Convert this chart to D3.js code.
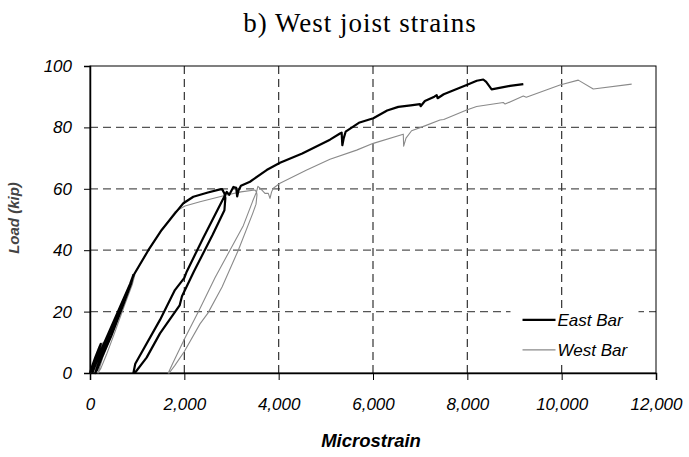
<!DOCTYPE html>
<html>
<head>
<meta charset="utf-8">
<script src="https://cdn.jsdelivr.net/npm/d3@7"></script>
<style>
  body { margin: 0; background: #fff; }
</style>
</head>
<body>
<div id="chart"></div>
<script>
// load (kip) vs microstrain
let eastStrain = [0, 40, 110, 200, 230, 180, 100, 50, 100, 250, 450, 650, 850, 920, 870, 700, 450, 250, 150, 110, 200, 400, 600, 800, 930,
  1237, 1520, 1802, 1979, 2191, 2500, 2756, 2800, 2850, 2870,
  2850, 2600, 2200, 1950, 1900, 1484, 1200, 950,
  920, 960, 1484, 1800, 2000, 2050, 2400, 2800, 2900, 2950,
  3040, 3100, 3120, 3150, 3200, 3392, 3745, 4028, 4500, 5088, 5300, 5335, 5350, 5380, 5420, 5700, 6007, 6300, 6537, 6800, 6996,
  7010, 7100, 7300, 7350, 7370, 7500, 7985, 8200, 8338, 8400, 8515, 8904, 9187];
let eastLoad = [0, 2, 5, 8.5, 9.5, 7, 3, 0, 2, 8, 15, 22, 29, 32, 29, 22, 12, 5, 1, 0, 4, 12, 20, 27, 32,
  40, 46.6, 52, 55.3, 57.4, 58.8, 59.8, 59.9, 58.5, 57,
  53, 45, 33, 25, 22, 12.9, 5, 0,
  0, 3, 17.3, 27, 31, 33, 44, 56, 59, 58,
  60.6, 60.3, 57.5, 59.5, 61, 62.3, 66.1, 68.5, 71.5, 76, 78, 78.3, 74.2, 76.5, 78.6, 81.5, 83, 85.5, 86.7, 87.2, 87.6,
  86.9, 88.6, 90, 90.5, 89.5, 90.8, 93.8, 95.2, 95.6, 94.8, 92.4, 93.5, 94.1];

let westStrain = [0, 80, 180, 280, 240, 160, 110, 190, 380, 620, 820, 950, 900, 730, 520, 350, 230, 170, 270, 470, 670, 870, 950,
  1237, 1520, 1802, 2014, 2332, 2897, 3200, 3498, 3530,
  3540, 3520, 3450, 3144, 2800, 2500, 2332, 2000, 1800, 1680, 1660,
  1750, 2000, 2332, 2650, 2967, 3250, 3450, 3530, 3560,
  3600, 3710, 3780, 3816, 3850, 3886, 4028, 4594, 5088, 5653, 6006, 6642, 6650, 6700, 6818, 7100, 7420, 7500, 7985, 8197,
  8763, 8800, 9187, 9250, 9964, 10352, 10670, 11484];
let westLoad = [0, 3, 6.5, 10, 8, 4, 0, 4, 12, 21, 28, 32, 29, 22, 13, 6, 1.5, 0, 5, 13, 21, 29, 32.5,
  40, 46.6, 52.5, 54.4, 55.8, 58, 59, 59.6, 59,
  58, 55, 52, 40, 28, 19.5, 16, 7, 2.5, 0, 0,
  3, 11, 21, 31, 40, 48, 56, 59, 60.8,
  60.3, 58.5, 58.5, 56.9, 59, 60.2, 61.8, 66.1, 69.6, 72.6, 74.8, 77.8, 73.9, 76.5, 78.9, 80.5, 82.4, 82.6, 85.7, 86.8,
  88.1, 87.6, 90.2, 89.8, 93.8, 95.4, 92.5, 94.1];

let xTicks = [0, 2000, 4000, 6000, 8000, 10000, 12000];
let yTicks = [0, 20, 40, 60, 80, 100];
let seriesNames = ["East Bar", "West Bar"];

let width = 689, height = 457;
let margin = { top: 66, right: 33, bottom: 84, left: 90 };
let innerW = width - margin.left - margin.right;
let innerH = height - margin.top - margin.bottom;

let svg = d3.select("#chart").append("svg")
  .attr("width", width)
  .attr("height", height)
  .style("display", "block");

let chart = svg.append("g")
  .attr("transform", `translate(${margin.left},${margin.top})`);

let x = d3.scaleLinear().domain([0, 12000]).range([0, innerW]);
let y = d3.scaleLinear().domain([0, 100]).range([innerH, 0]);

// title
svg.append("text")
  .attr("x", 360).attr("y", 32)
  .attr("text-anchor", "middle")
  .attr("font-family", "'Liberation Serif', 'Times New Roman', serif")
  .attr("font-size", 27)
  .attr("letter-spacing", 1)
  .text("b) West joist strains");

// dashed grid
chart.append("g")
  .selectAll("line")
  .data(yTicks.slice(1, -1))
  .join("line")
  .attr("x1", 0).attr("x2", innerW)
  .attr("y1", (d) => y(d)).attr("y2", (d) => y(d))
  .attr("stroke", "#555").attr("stroke-width", 1.2)
  .attr("stroke-dasharray", "8,5");

chart.append("g")
  .selectAll("line")
  .data(xTicks.slice(1, -1))
  .join("line")
  .attr("y1", 0).attr("y2", innerH)
  .attr("x1", (d) => x(d)).attr("x2", (d) => x(d))
  .attr("stroke", "#333").attr("stroke-width", 1.2)
  .attr("stroke-dasharray", "8,5");

// border
chart.append("rect")
  .attr("width", innerW).attr("height", innerH)
  .attr("fill", "none").attr("stroke", "#000").attr("stroke-width", 1);

// axes
let tickFont = "'Liberation Sans', Arial, sans-serif";
let fmt = d3.format(",");

let xAxis = chart.append("g")
  .attr("transform", `translate(0,${innerH})`)
  .call(d3.axisBottom(x).tickValues(xTicks).tickFormat(fmt).tickSize(7));
let yAxis = chart.append("g")
  .call(d3.axisLeft(y).tickValues(yTicks).tickSize(6).tickPadding(12));

[xAxis, yAxis].forEach((a) => {
  a.select(".domain").attr("stroke", "#000").attr("stroke-width", 1.5);
  a.selectAll(".tick line").attr("stroke", "#000");
  a.selectAll(".tick text")
    .attr("font-family", tickFont)
    .attr("font-size", 17)
    .attr("font-style", "italic")
    .attr("fill", "#000");
});
xAxis.selectAll(".tick text").attr("dy", null).attr("y", 37);

// axis titles
svg.append("text")
  .attr("x", margin.left + innerW / 2 - 2).attr("y", 447)
  .attr("text-anchor", "middle")
  .attr("font-family", tickFont)
  .attr("font-size", 18.5)
  .attr("font-weight", "bold")
  .attr("font-style", "italic")
  .text("Microstrain");

svg.append("text")
  .attr("transform", "translate(19,218) rotate(-90)")
  .attr("text-anchor", "middle")
  .attr("font-family", tickFont)
  .attr("font-size", 15)
  .attr("font-weight", "bold")
  .attr("font-style", "italic")
  .attr("fill", "#444")
  .text("Load (kip)");

// curves
let line = d3.line()
  .x((d) => x(d[0]))
  .y((d) => y(d[1]));

let westPts = d3.zip(westStrain, westLoad);
let eastPts = d3.zip(eastStrain, eastLoad);

chart.append("path")
  .datum(westPts)
  .attr("d", line)
  .attr("fill", "none")
  .attr("stroke", "#8a8a8a")
  .attr("stroke-width", 1.1)
  .attr("stroke-linejoin", "round");

chart.append("path")
  .datum(eastPts)
  .attr("d", line)
  .attr("fill", "none")
  .attr("stroke", "#000")
  .attr("stroke-width", 2.2)
  .attr("stroke-linejoin", "round");

// legend
let legend = chart.append("g");
legend.append("rect")
  .attr("x", x(9000) - 4).attr("y", y(21))
  .attr("width", 128).attr("height", 54)
  .attr("fill", "#fff");

let legendStyle = [
  { color: "#000", w: 2.2 },
  { color: "#8a8a8a", w: 1.1 },
];
let lg = legend.selectAll("g.item")
  .data(seriesNames)
  .join("g")
  .attr("class", "item")
  .attr("transform", (d, i) => `translate(${x(9170)},${y(17.3) + i * 30})`);
lg.append("line")
  .attr("x1", 0).attr("x2", 33)
  .attr("stroke", (d, i) => legendStyle[i].color)
  .attr("stroke-width", (d, i) => legendStyle[i].w);
lg.append("text")
  .attr("x", 35).attr("dy", "0.35em")
  .attr("font-family", tickFont)
  .attr("font-size", 17)
  .attr("font-style", "italic")
  .text((d) => d);
</script>
</body>
</html>
